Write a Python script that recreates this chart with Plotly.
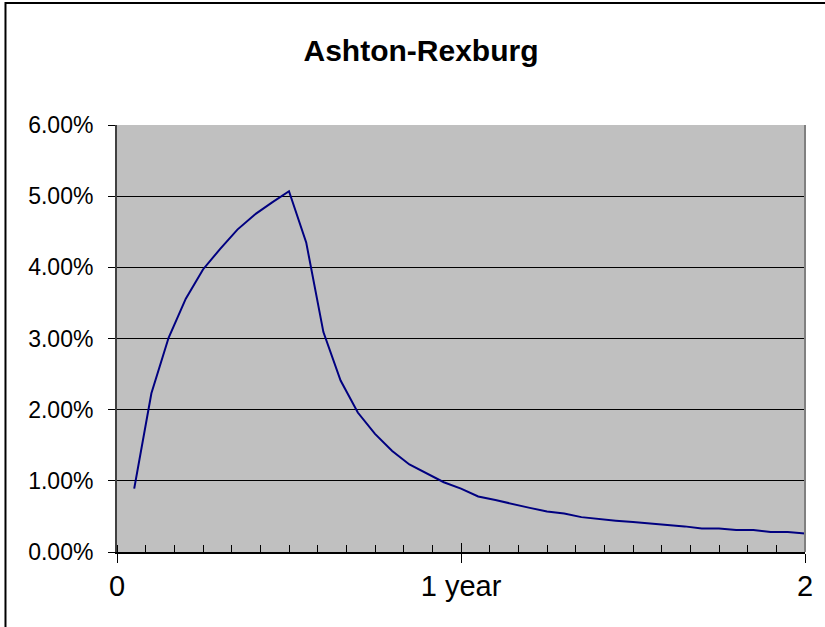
import plotly.graph_objects as go

# Data: 40 periods of 0.05 year (x in years), y as fraction
periods = list(range(1, 41))
x_years = [p / 20 for p in periods]
rate = [0.0089, 0.0223, 0.0301, 0.0356, 0.0397, 0.0426, 0.0453, 0.0474, 0.0491, 0.0507,
        0.0435, 0.0309, 0.0241, 0.0196, 0.0166, 0.0142, 0.0123, 0.0110, 0.0098, 0.0089,
        0.0078, 0.0073, 0.0067, 0.0062, 0.0057, 0.0054, 0.0049, 0.0046, 0.0044, 0.0042,
        0.0040, 0.0039, 0.0036, 0.0033, 0.0033, 0.0031, 0.0031, 0.0028, 0.0028, 0.0026]

x_tickvals = [0, 1, 2]
x_ticktext = ["0", "1 year", "2"]
y_tickvals = [0, 0.01, 0.02, 0.03, 0.04, 0.05, 0.06]

fig = go.Figure()
fig.add_trace(go.Scatter(x=x_years, y=rate, mode="lines",
                         line=dict(color="#000080", width=2), showlegend=False))
# invisible trace to anchor second x axis (crossing major ticks)
fig.add_trace(go.Scatter(x=[0, 2], y=[0, 0], xaxis="x2", mode="lines",
                         line=dict(width=0), opacity=0, showlegend=False, hoverinfo="skip"))

fig.update_layout(
    width=825, height=627,
    margin=dict(l=117, r=17, t=125, b=75),
    paper_bgcolor="white",
    plot_bgcolor="#C0C0C0",
    font=dict(family="Liberation Sans, Arial, sans-serif", color="black"),
    title=dict(text="<b>Ashton-Rexburg</b>", font=dict(size=30, color="black"),
               x=421 / 825, xanchor="center", xref="container",
               y=1 - 50 / 627, yanchor="middle", yref="container"),
    xaxis=dict(range=[0, 2], tickvals=x_tickvals, ticktext=x_ticktext,
               ticks="outside", ticklen=9, tickwidth=1, tickcolor="black",
               showline=True, linecolor="black", linewidth=2,
               showgrid=False, zeroline=False,
               tickfont=dict(size=29), ticklabelstandoff=-2,
               minor=dict(dtick=1 / 12, tick0=0, ticks="inside", ticklen=7,
                          tickwidth=1, tickcolor="black", showgrid=False)),
    xaxis2=dict(range=[0, 2], overlaying="x", side="bottom", tickvals=x_tickvals,
                ticks="inside", ticklen=9, tickwidth=1, tickcolor="black",
                showticklabels=False, showgrid=False, zeroline=False, showline=False),
    yaxis=dict(range=[0, 0.06], tickvals=y_tickvals, tickformat=".2%",
               ticks="outside", ticklen=7, tickwidth=1, tickcolor="black",
               showline=True, linecolor="#404040", linewidth=2,
               showgrid=True, gridcolor="black", gridwidth=1,
               zeroline=False, tickfont=dict(size=23), ticklabelstandoff=10),
    shapes=[
        # right border of plot area
        dict(type="line", xref="paper", yref="paper", x0=1, x1=1, y0=0, y1=1,
             line=dict(color="#808080", width=2)),
        # chart outer border
        dict(type="rect", xref="paper", yref="paper",
             x0=(5 - 117) / 691, x1=(830 - 117) / 691,
             y0=(552 - 632) / 427, y1=(552 - 3) / 427,
             line=dict(color="black", width=2), fillcolor="rgba(0,0,0,0)", layer="below"),
    ],
)

fig.write_html("out.html", config={"displayModeBar": False},
               post_script="document.body.style.margin='0';document.body.style.overflow='hidden';")
